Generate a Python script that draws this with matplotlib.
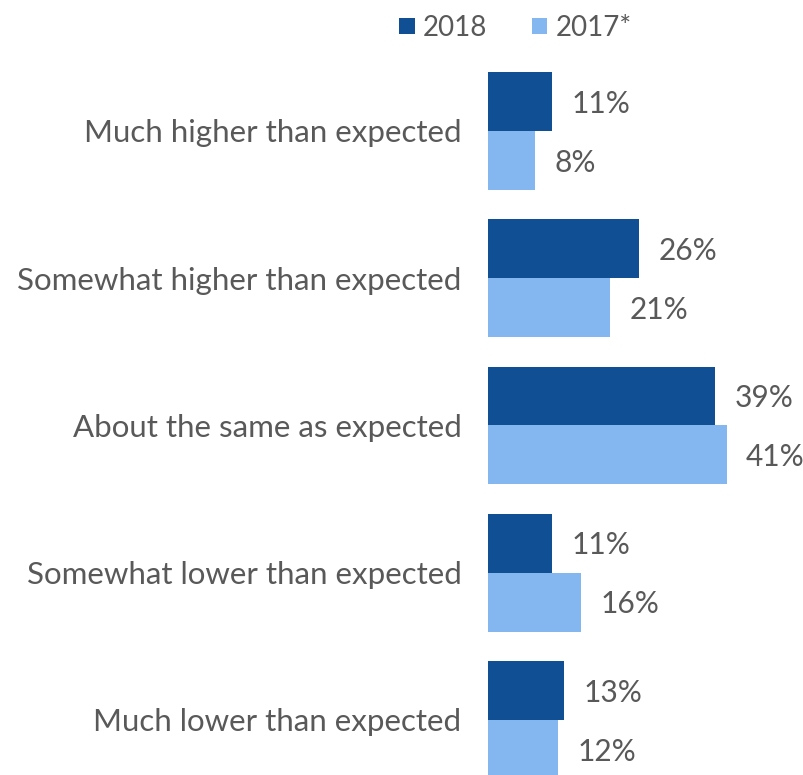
import matplotlib
matplotlib.use("Agg")
import matplotlib.pyplot as plt
import numpy as np

categories = [
    "Much higher than expected",
    "Somewhat higher than expected",
    "About the same as expected",
    "Somewhat lower than expected",
    "Much lower than expected",
]
values_2018 = [11, 26, 39, 11, 13]
values_2017 = [8, 21, 41, 16, 12]
series_names = ["2018", "2017*"]

dark_blue = "#114F94"
light_blue = "#84B7F0"
text_grey = "#595959"

plt.rcParams["font.family"] = ["Lato", "DejaVu Sans"]

fig = plt.figure(figsize=(8.04, 7.75), dpi=100)
ax = fig.add_axes([488 / 804, -0.024, 1 - 488 / 804, 0.950])

y = np.arange(len(categories))
h = 0.4
ax.barh(y - h / 2, values_2018, height=h, color=dark_blue, label=series_names[0])
ax.barh(y + h / 2, values_2017, height=h, color=light_blue, label=series_names[1])

ax.set_xlim(0, 54.3)
ax.set_ylim(len(categories) - 0.5, -0.5)

for yi, v in zip(y - h / 2, values_2018):
    ax.annotate(f"{v}%", (v, yi), xytext=(14, -1.5), textcoords="offset points",
                va="center", ha="left", fontsize=21.5, color=text_grey)
for yi, v in zip(y + h / 2, values_2017):
    ax.annotate(f"{v}%", (v, yi), xytext=(14, -1.5), textcoords="offset points",
                va="center", ha="left", fontsize=21.5, color=text_grey)

ax.set_yticks(y)
ax.set_yticklabels(categories, fontsize=22.5, color=text_grey)
ax.tick_params(axis="y", length=0, pad=19)
ax.set_xticks([])
for s in ax.spines.values():
    s.set_visible(False)

fig.legend(loc="upper center", bbox_to_anchor=(0.641, 1.013), ncol=2, frameon=False,
           fontsize=20, labelcolor=text_grey, handlelength=0.55, handleheight=0.55,
           handletextpad=0.3, columnspacing=1.6)

fig.savefig("out.png", dpi=100)
